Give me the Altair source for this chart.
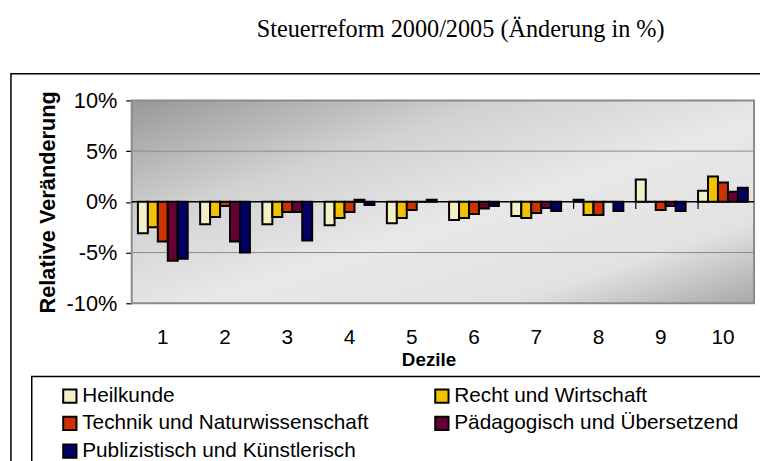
import altair as alt
import pandas as pd

deciles = [1, 2, 3, 4, 5, 6, 7, 8, 9, 10]
series = ["Heilkunde", "Recht und Wirtschaft", "Technik und Naturwissenschaft",
          "Pädagogisch und Übersetzend", "Publizistisch und Künstlerisch"]
colors = ["#F3F0C8", "#F2C200", "#CC3300", "#660033", "#000066"]

heilkunde = [-3.1, -2.2, -2.2, -2.3, -2.1, -1.8, -1.4, 0.2, 2.2, 1.1]
recht = [-2.5, -1.5, -1.5, -1.6, -1.6, -1.6, -1.6, -1.3, 0.0, 2.5]
technik = [-3.9, -0.4, -1.0, -1.0, -0.8, -1.2, -1.1, -1.3, -0.8, 1.9]
paedagogisch = [-5.8, -3.9, -1.0, 0.2, 0.0, -0.65, -0.6, 0.0, -0.4, 1.0]
publizistisch = [-5.6, -5.0, -3.8, -0.3, 0.2, -0.4, -0.9, -0.9, -0.9, 1.4]

y_ticks = [-10, -5, 0, 5, 10]
grid_vals = [-5, 5]

rows = []
for s, vals in zip(series, [heilkunde, recht, technik, paedagogisch, publizistisch]):
    for d, v in zip(deciles, vals):
        rows.append({"Dezil": d, "Serie": s, "Wert": v})
df = pd.DataFrame(rows)

W, H = 629, 205
FONT = "Liberation Sans"

one = alt.Data(values=[{}])

yscale = alt.Scale(domain=[-10, 10], nice=False, zero=False)
xscale = alt.Scale(paddingInner=0.2, paddingOuter=0.1)

xaxis = alt.Axis(title="Dezile", labelAngle=0, domain=False, ticks=False,
                 labelFont=FONT, labelFontSize=21, labelColor="black", labelPadding=24,
                 titleFont=FONT, titleFontSize=19, titleFontWeight="bold", titleColor="black",
                 titlePadding=3, titleX=300)
yaxis = alt.Axis(title="Relative Veränderung", values=y_ticks, grid=False,
                 labelExpr="datum.value + '%'", domainColor="black", domainWidth=1.5,
                 tickColor="black", tickSize=6, tickWidth=1.2,
                 labelFont=FONT, labelFontSize=22, labelColor="black", labelPadding=9,
                 titleFont=FONT, titleFontSize=22, titleFontWeight="bold", titleColor="black",
                 titlePadding=7)

bg_grad = alt.Gradient(
    gradient="linear", x1=0, y1=0, x2=1, y2=1,
    stops=[alt.GradientStop(color="#989898", offset=0),
           alt.GradientStop(color="#d2d2d2", offset=0.3),
           alt.GradientStop(color="#e8e8e8", offset=0.55),
           alt.GradientStop(color="#e2e2e2", offset=0.8),
           alt.GradientStop(color="#a8a8a8", offset=1)])

outer = alt.Chart(one).mark_rect(fill=None, stroke="black", strokeWidth=1.5, clip=False).encode(
    x=alt.value(-122), x2=alt.value(700), y=alt.value(-27), y2=alt.value(420))

legend_box = alt.Chart(one).mark_rect(fill=None, stroke="black", strokeWidth=1.5, clip=False).encode(
    x=alt.value(-101), x2=alt.value(700), y=alt.value(279), y2=alt.value(420))

bg = alt.Chart(one).mark_rect(fill=bg_grad, stroke="#8a8a8a", strokeWidth=2).encode(
    x=alt.value(0), x2=alt.value(W), y=alt.value(0), y2=alt.value(H))

grid = alt.Chart(pd.DataFrame({"Wert": grid_vals})).mark_rule(color="#8a8a8a", strokeWidth=1).encode(
    y=alt.Y("Wert:Q", scale=yscale, axis=yaxis))

zero = alt.Chart(one).mark_rule(color="black", strokeWidth=1.5).encode(
    y=alt.datum(0, scale=yscale), x=alt.value(0), x2=alt.value(W))

ticks = alt.Chart(pd.DataFrame({"Dezil": deciles[1:]})).mark_rule(color="black", strokeWidth=1.2).encode(
    x=alt.X("Dezil:O", bandPosition=0, scale=xscale, axis=xaxis),
    y=alt.datum(0, scale=yscale),
    y2=alt.datum(-0.7))

bars = alt.Chart(df).mark_bar(stroke="black", strokeWidth=2, opacity=1).encode(
    x=alt.X("Dezil:O", scale=xscale, axis=xaxis),
    xOffset=alt.XOffset("Serie:N", sort=series, scale=alt.Scale(domain=series)),
    y=alt.Y("Wert:Q", scale=yscale, axis=yaxis),
    color=alt.Color("Serie:N", sort=series, scale=alt.Scale(domain=series, range=colors),
                    legend=alt.Legend(title=None, orient="none", legendX=-73, legendY=288,
                                      direction="horizontal",
                                      columns=2, columnPadding=62, rowPadding=5,
                                      symbolType="square", symbolSize=180,
                                      symbolStrokeColor="black", symbolStrokeWidth=2,
                                      labelFont=FONT, labelFontSize=21, labelColor="black",
                                      labelOffset=2, labelLimit=400, padding=0)),
)

title = alt.Chart(one).mark_text(font="Liberation Serif", fontSize=24.5, color="black",
                                  align="center", baseline="alphabetic", clip=False).encode(
    x=alt.value(332.5), y=alt.value(-64), text=alt.value("Steuerreform 2000/2005 (Änderung in %)"))

chart = alt.layer(outer, legend_box, bg, grid, zero, bars, ticks, title).properties(
    width=W, height=H,
    autosize=alt.AutoSizeParams(type="none"),
    padding={"left": 125, "top": 91, "right": 6, "bottom": 157},
).configure_view(stroke=None)

chart.save("out.html", embed_options={"renderer": "svg", "actions": False})
